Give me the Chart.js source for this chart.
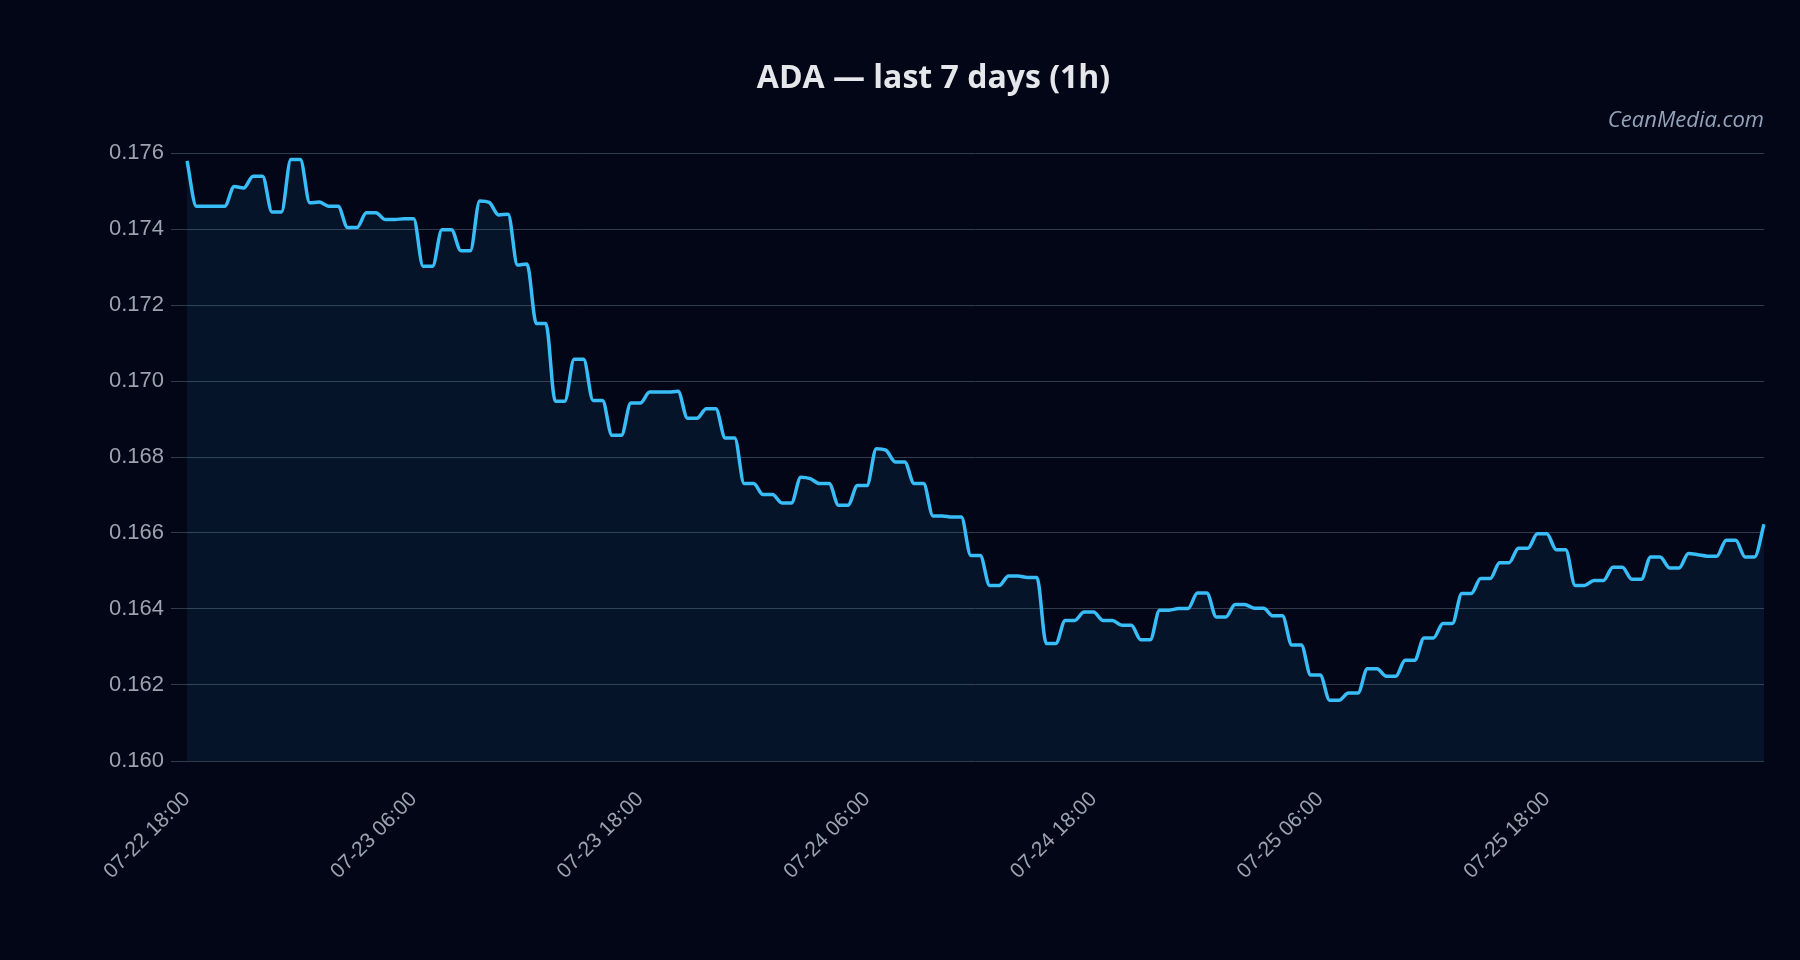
<!DOCTYPE html>
<html>
<head>
<meta charset="utf-8">
<script src="https://cdn.jsdelivr.net/npm/chart.js@4.4.1/dist/chart.umd.min.js"></script>
<style>
  html, body { margin: 0; padding: 0; background: #020617; }
  #wrap { width: 1800px; height: 960px; }
</style>
</head>
<body>
<div id="wrap"><canvas id="chart" width="1800" height="960"></canvas></div>
<script>
// ADA price, one value per 30-min slot (pairs per hour)
const prices = [
  0.17579,
  0.17460, 0.17460, 0.17460, 0.17460, 0.17512, 0.17508, 0.17539, 0.17539,
  0.17445, 0.17445, 0.17583, 0.17583, 0.17469, 0.17471, 0.17460, 0.17460,
  0.17404, 0.17404, 0.17443, 0.17443, 0.17425, 0.17425, 0.17427, 0.17427,
  0.17302, 0.17302, 0.17398, 0.17398, 0.17343, 0.17343, 0.17474, 0.17470,
  0.17437, 0.17439, 0.17305, 0.17308, 0.17151, 0.17151, 0.16947, 0.16947,
  0.17057, 0.17057, 0.16949, 0.16949, 0.16857, 0.16857, 0.16942, 0.16942,
  0.16971, 0.16971, 0.16971, 0.16973, 0.16902, 0.16902, 0.16927, 0.16927,
  0.16850, 0.16850, 0.16730, 0.16730, 0.16701, 0.16701, 0.16679, 0.16679,
  0.16747, 0.16743, 0.16730, 0.16730, 0.16673, 0.16673, 0.16725, 0.16725,
  0.16822, 0.16818, 0.16787, 0.16787, 0.16730, 0.16730, 0.16645, 0.16645,
  0.16642, 0.16642, 0.16541, 0.16541, 0.16462, 0.16462, 0.16487, 0.16487,
  0.16483, 0.16483, 0.16309, 0.16309, 0.16370, 0.16370, 0.16392, 0.16392,
  0.16370, 0.16370, 0.16357, 0.16357, 0.16319, 0.16319, 0.16397, 0.16397,
  0.16401, 0.16401, 0.16442, 0.16442, 0.16379, 0.16379, 0.16412, 0.16412,
  0.16402, 0.16402, 0.16382, 0.16382, 0.16305, 0.16305, 0.16226, 0.16226,
  0.16160, 0.16160, 0.16179, 0.16179, 0.16243, 0.16243, 0.16223, 0.16223,
  0.16265, 0.16265, 0.16324, 0.16324, 0.16362, 0.16362, 0.16441, 0.16441,
  0.16480, 0.16480, 0.16522, 0.16522, 0.16560, 0.16560, 0.16598, 0.16598,
  0.16556, 0.16556, 0.16462, 0.16462, 0.16475, 0.16475, 0.16510, 0.16510,
  0.16478, 0.16478, 0.16537, 0.16537, 0.16508, 0.16508, 0.16546, 0.16543,
  0.16539, 0.16539, 0.16581, 0.16581, 0.16537, 0.16537,
  0.16623
];

// x tick labels shown, one every 24 slots
const tickLabels = ['07-22 18:00', '07-23 06:00', '07-23 18:00', '07-24 06:00',
                    '07-24 18:00', '07-25 06:00', '07-25 18:00'];
const tickEvery = 24;

const yMin = 0.160, yMax = 0.176, yStep = 0.002;

const tickColor = '#9ca3af';
const fontFamily = "'Liberation Sans', Arial, sans-serif";

const bgPlugin = {
  id: 'bg',
  beforeDraw(chart) {
    const ctx = chart.ctx;
    ctx.save();
    ctx.fillStyle = '#020617';
    ctx.fillRect(0, 0, chart.width, chart.height);
    ctx.restore();
  }
};

const ctx = document.getElementById('chart').getContext('2d');
new Chart(ctx, {
  type: 'line',
  data: {
    labels: prices.map((_, i) => i),
    datasets: [{
      data: prices,
      borderColor: '#38bdf8',
      borderWidth: 3.5,
      backgroundColor: 'rgba(56, 189, 248, 0.08)',
      fill: 'start',
      pointRadius: 0,
      cubicInterpolationMode: 'monotone'
    }]
  },
  options: {
    responsive: false,
    animation: false,
    layout: { padding: { left: 103, right: 36, top: 0, bottom: 0 } },
    plugins: {
      legend: { display: false },
      tooltip: { enabled: false },
      title: {
        display: true,
        text: 'ADA — last 7 days (1h)',
        color: '#e5e7eb',
        font: { family: "'Open Sans', 'Noto Sans', sans-serif", size: 32, weight: 'bold' },
        padding: { top: 60, bottom: 9.6 }
      },
      subtitle: {
        display: true,
        text: 'CeanMedia.com',
        align: 'end',
        color: '#94a3b8',
        font: { family: "'Open Sans', 'Noto Sans', sans-serif", size: 22, style: 'italic' },
        padding: { top: 0, bottom: 18.6 }
      }
    },
    scales: {
      x: {
        grid: { display: false, drawTicks: false },
        border: { display: false },
        ticks: {
          autoSkip: false,
          minRotation: 45,
          maxRotation: 45,
          color: tickColor,
          font: { family: fontFamily, size: 21 },
          padding: 26,
          callback: (v, i) => (i % tickEvery === 0 ? tickLabels[i / tickEvery] : '')
        },
        afterFit(scale) {
          scale.height = 199;
          scale.paddingRight = 0;
        }
      },
      y: {
        min: yMin,
        max: yMax,
        grid: { color: '#313b4b', lineWidth: 1, tickLength: 16 },
        border: { display: false },
        ticks: {
          stepSize: yStep,
          color: tickColor,
          font: { family: fontFamily, size: 22 },
          padding: 7,
          callback: v => v.toFixed(3)
        },
        afterFit(scale) { scale.width = 84; }
      }
    }
  },
  plugins: [bgPlugin]
});
</script>
</body>
</html>
